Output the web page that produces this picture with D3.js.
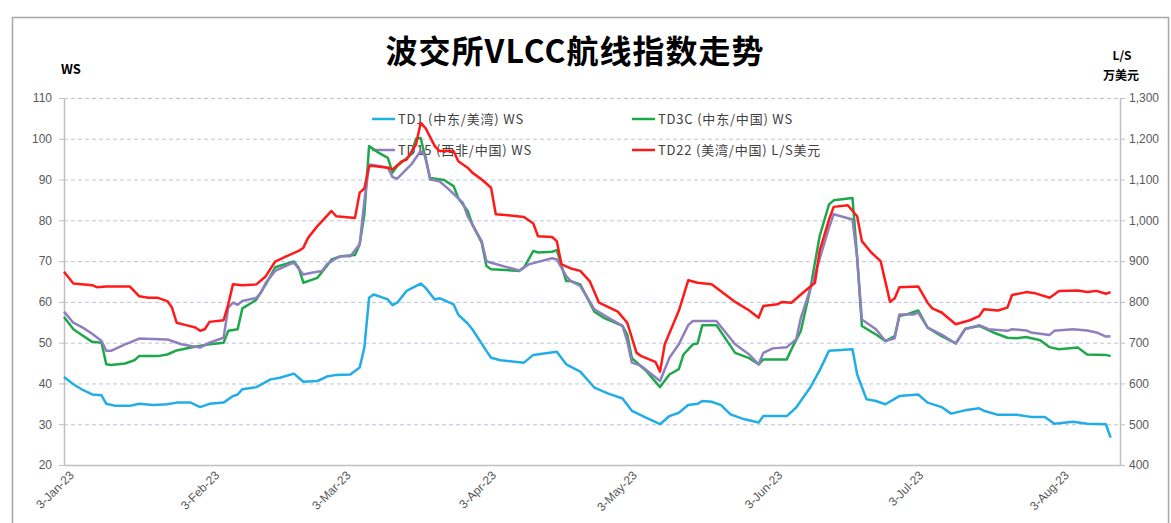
<!DOCTYPE html>
<html>
<head>
<meta charset="utf-8">
<script src="https://cdn.jsdelivr.net/npm/d3@7"></script>
<style>
  body { margin: 0; background: #fff; }
  svg { display: block; }
</style>
</head>
<body>
<svg width="1171" height="523"></svg>
<script>
// dates are month-day in 2023
const td1 = [
  ["01-03",41.6],["01-05",39.8],["01-07",38.4],["01-09",37.3],["01-11",37.1],["01-12",35.0],["01-14",34.5],
  ["01-17",34.5],["01-19",35.0],["01-22",34.7],["01-25",34.9],["01-27",35.3],["01-30",35.3],["02-01",34.2],
  ["02-03",35.0],["02-06",35.3],["02-08",36.9],["02-09",37.3],["02-10",38.6],["02-13",39.1],["02-16",41.0],
  ["02-18",41.4],["02-21",42.4],["02-22",41.4],["02-23",40.4],["02-26",40.6],["02-28",41.7],["03-02",42.1],
  ["03-05",42.2],["03-07",43.9],["03-08",48.8],["03-09",61.0],["03-10",61.8],["03-13",60.6],["03-14",59.2],
  ["03-15",59.8],["03-17",62.7],["03-20",64.5],["03-21",63.5],["03-23",60.6],["03-24",60.9],["03-27",59.4],
  ["03-28",56.9],["03-30",54.7],["03-31",53.3],["04-03",48.0],["04-04",46.3],["04-06",45.7],["04-11",45.1],
  ["04-13",47.0],["04-18",47.8],["04-20",44.7],["04-23",42.9],["04-26",39.0],["04-29",37.5],["05-02",36.3],
  ["05-04",33.3],["05-07",31.6],["05-10",30.0],["05-12",32.0],["05-14",32.8],["05-16",34.7],["05-18",35.0],
  ["05-19",35.7],["05-21",35.5],["05-23",34.7],["05-25",32.4],["05-28",31.2],["05-31",30.4],["06-01",32.0],
  ["06-06",32.0],["06-08",34.1],["06-11",39.0],["06-13",43.2],["06-15",48.0],["06-20",48.4],["06-21",42.2],
  ["06-23",36.1],["06-25",35.7],["06-27",34.9],["06-30",36.9],["07-04",37.3],["07-06",35.3],["07-09",34.2],
  ["07-11",32.6],["07-14",33.4],["07-17",33.9],["07-18",33.3],["07-21",32.3],["07-25",32.3],["07-28",31.8],
  ["07-31",31.8],["08-02",30.1],["08-06",30.6],["08-09",30.1],["08-13",30.0],["08-14",26.7]
];

const td3c = [
  ["01-03",56.3],["01-05",53.3],["01-06",52.5],["01-09",50.2],["01-11",50.0],["01-12",44.7],["01-13",44.5],
  ["01-16",44.9],["01-18",45.7],["01-19",46.7],["01-23",46.7],["01-25",47.1],["01-27",48.1],["01-30",48.8],
  ["02-03",49.6],["02-06",50.0],["02-07",52.9],["02-09",53.3],["02-10",58.4],["02-12",59.8],["02-13",60.6],
  ["02-15",64.3],["02-17",68.5],["02-21",69.9],["02-22",68.4],["02-23",64.7],["02-26",65.9],["02-28",68.8],
  ["03-01",70.4],["03-03",71.2],["03-06",71.5],["03-07",74.1],["03-08",81.5],["03-09",98.2],["03-11",96.6],
  ["03-13",95.3],["03-14",91.7],["03-15",93.3],["03-18",96.2],["03-19",100.0],["03-20",100.2],["03-22",90.4],
  ["03-25",89.9],["03-27",88.4],["03-28",85.5],["03-30",82.3],["03-31",79.0],["04-02",74.5],["04-03",68.8],
  ["04-04",68.0],["04-10",67.6],["04-11",68.4],["04-13",72.5],["04-14",72.1],["04-17",72.3],["04-18",72.7],
  ["04-20",65.1],["04-21",65.1],["04-23",64.3],["04-26",57.6],["04-28",56.1],["05-02",54.1],["05-03",52.0],
  ["05-04",46.2],["05-07",43.1],["05-10",39.1],["05-12",42.2],["05-14",43.5],["05-15",47.1],["05-17",49.6],
  ["05-18",49.8],["05-19",54.3],["05-22",54.3],["05-26",47.5],["05-29",46.2],["05-31",44.7],["06-01",45.9],
  ["06-06",45.9],["06-07",48.4],["06-09",52.9],["06-11",63.1],["06-13",76.1],["06-15",83.9],["06-16",84.9],
  ["06-20",85.5],["06-21",70.8],["06-22",54.1],["06-25",52.0],["06-27",50.4],["06-29",51.6],["06-30",56.5],
  ["07-02",57.1],["07-04",57.9],["07-06",53.7],["07-09",51.6],["07-12",49.8],["07-14",53.4],["07-17",54.1],
  ["07-20",52.5],["07-23",51.2],["07-25",51.1],["07-27",51.4],["07-30",50.6],["08-01",48.9],["08-03",48.4],
  ["08-07",48.8],["08-09",47.1],["08-13",47.0],["08-14",46.7]
];

const td15 = [
  ["01-03",57.6],["01-05",54.9],["01-07",53.7],["01-09",52.2],["01-11",50.4],["01-12",48.0],["01-13",48.0],
  ["01-16",49.6],["01-17",50.0],["01-19",51.0],["01-25",50.8],["01-26",50.4],["01-28",49.6],["01-30",49.2],
  ["02-01",48.8],["02-03",50.0],["02-06",51.2],["02-07",58.6],["02-08",59.8],["02-09",59.3],["02-10",60.2],
  ["02-13",61.0],["02-14",62.3],["02-15",64.7],["02-17",67.6],["02-20",69.2],["02-21",69.6],["02-23",66.7],
  ["02-25",67.2],["02-27",67.6],["02-28",69.2],["03-02",70.7],["03-03",71.2],["03-05",71.2],["03-07",74.1],
  ["03-08",84.7],["03-09",93.7],["03-11",93.3],["03-13",92.9],["03-14",90.6],["03-15",90.2],["03-18",93.7],
  ["03-20",97.0],["03-21",95.8],["03-22",90.0],["03-24",89.6],["03-26",87.6],["03-29",84.3],["03-30",81.0],
  ["04-02",74.9],["04-03",70.0],["04-04",69.6],["04-10",67.7],["04-12",69.2],["04-17",70.7],["04-18",70.4],
  ["04-20",66.3],["04-21",65.1],["04-23",63.9],["04-26",58.2],["04-29",56.1],["05-02",54.1],["05-03",50.4],
  ["05-04",45.1],["05-06",44.3],["05-10",40.6],["05-12",46.3],["05-14",49.6],["05-16",54.3],["05-17",55.3],
  ["05-22",55.3],["05-26",49.6],["05-29",47.1],["05-31",44.7],["06-01",47.5],["06-03",48.6],["06-06",48.9],
  ["06-08",50.8],["06-09",56.1],["06-12",66.7],["06-15",78.2],["06-16",81.5],["06-20",80.2],["06-21",70.8],
  ["06-22",55.7],["06-25",53.3],["06-27",50.4],["06-29",51.1],["06-30",56.9],["07-03",56.9],["07-04",57.4],
  ["07-06",53.7],["07-09",52.0],["07-12",49.8],["07-14",53.3],["07-17",54.3],["07-19",53.3],["07-23",52.9],
  ["07-24",53.3],["07-27",53.0],["07-28",52.5],["08-01",51.9],["08-02",52.9],["08-06",53.3],["08-09",53.0],
  ["08-11",52.5],["08-13",51.5],["08-14",51.6]
];

// TD22 on the right axis
const td22 = [
  ["01-03",874],["01-05",845],["01-09",841],["01-10",836],["01-12",838],["01-17",838],["01-19",814],
  ["01-21",810],["01-23",810],["01-25",802],["01-26",786],["01-27",749],["01-29",743],["01-31",737],
  ["02-01",729],["02-02",733],["02-03",751],["02-06",755],["02-07",794],["02-08",843],["02-10",841],
  ["02-13",843],["02-15",863],["02-17",899],["02-19",910],["02-22",925],["02-23",933],["02-24",957],
  ["02-26",986],["03-01",1023],["03-02",1010],["03-06",1006],["03-07",1068],["03-08",1078],["03-09",1133],
  ["03-10",1133],["03-13",1129],["03-14",1125],["03-16",1145],["03-17",1149],["03-19",1186],["03-20",1239],
  ["03-21",1227],["03-23",1182],["03-24",1170],["03-27",1170],["03-28",1145],["03-30",1129],["03-31",1117],
  ["04-02",1100],["04-04",1080],["04-05",1015],["04-07",1013],["04-11",1008],["04-13",992],["04-14",961],
  ["04-17",959],["04-18",949],["04-19",892],["04-21",882],["04-23",876],["04-25",851],["04-27",798],
  ["04-29",787],["05-01",776],["05-03",749],["05-05",675],["05-06",667],["05-09",653],["05-10",629],
  ["05-11",696],["05-14",778],["05-16",853],["05-18",847],["05-21",843],["05-26",800],["05-29",779],
  ["05-31",761],["06-01",790],["06-04",794],["06-05",800],["06-07",798],["06-09",818],["06-12",847],
  ["06-13",925],["06-15",1002],["06-16",1033],["06-19",1037],["06-21",1010],["06-22",949],["06-24",921],
  ["06-26",900],["06-28",800],["06-29",809],["06-30",836],["07-04",838],["07-06",798],["07-07",784],
  ["07-09",774],["07-12",745],["07-15",755],["07-17",765],["07-18",782],["07-21",779],["07-23",786],
  ["07-24",817],["07-27",824],["07-29",821],["08-01",810],["08-02",818],["08-03",827],["08-07",828],
  ["08-09",824],["08-11",827],["08-13",820],["08-14",824]
];

const leftTicks = [20, 30, 40, 50, 60, 70, 80, 90, 100, 110];
const rightTicks = [400, 500, 600, 700, 800, 900, 1000, 1100, 1200, 1300];
const dateTicks = ["01-03", "02-03", "03-03", "04-03", "05-03", "06-03", "07-03", "08-03"];

const seriesNames = ["TD1 (中东/美湾) WS", "TD3C (中东/中国) WS", "TD15 (西非/中国) WS", "TD22 (美湾/中国) L/S美元"];
const seriesColors = ["#22ade6", "#1fa84a", "#8f7fbf", "#ff1a1a"];

const parse = d3.timeParse("%Y-%m-%d");
const toDate = s => parse("2023-" + s);

const svg = d3.select("svg");
const plotLeft = 64, plotRight = 1120, plotTop = 98, plotBottom = 465;

const x = d3.scaleTime()
  .domain([toDate("01-03"), toDate("08-16")])
  .range([plotLeft, plotRight]);
const yL = d3.scaleLinear().domain([20, 110]).range([plotBottom, plotTop]);
const yR = d3.scaleLinear().domain([400, 1300]).range([plotBottom, plotTop]);

// outer frame
svg.append("rect")
  .attr("x", 12.5).attr("y", 17.5)
  .attr("width", 1156).attr("height", 520)
  .attr("fill", "none").attr("stroke", "#a6a6a6").attr("stroke-width", 1.5);

// title and unit labels
svg.append("text")
  .attr("x", 575).attr("y", 63)
  .attr("text-anchor", "middle")
  .style("font-family", "'Noto Sans CJK SC', sans-serif")
  .style("font-size", "32px").style("font-weight", "bold")
  .style("letter-spacing", "1px")
  .attr("fill", "#000")
  .text("波交所VLCC航线指数走势");

svg.append("text")
  .attr("x", 71).attr("y", 74).attr("text-anchor", "middle")
  .style("font-family", "'Noto Sans CJK SC', sans-serif")
  .style("font-size", "13px").style("font-weight", "bold")
  .text("WS");
svg.append("text")
  .attr("x", 1122).attr("y", 60).attr("text-anchor", "middle")
  .style("font-family", "'Noto Sans CJK SC', sans-serif")
  .style("font-size", "12px").style("font-weight", "bold")
  .text("L/S");
svg.append("text")
  .attr("x", 1121).attr("y", 80).attr("text-anchor", "middle")
  .style("font-family", "'Noto Sans CJK SC', sans-serif")
  .style("font-size", "12px").style("font-weight", "bold")
  .text("万美元");

// dashed grid
svg.append("g")
  .selectAll("line")
  .data(leftTicks.filter(d => d > 20))
  .join("line")
  .attr("x1", plotLeft).attr("x2", plotRight)
  .attr("y1", d => yL(d) + 0.5).attr("y2", d => yL(d) + 0.5)
  .attr("stroke", "#bcc5dc").attr("stroke-width", 1)
  .attr("stroke-dasharray", "4,3");

// axes
const axisFont = "'Liberation Sans', Arial, sans-serif";

const gL = svg.append("g")
  .attr("transform", `translate(${plotLeft},0)`)
  .call(d3.axisLeft(yL).tickValues(leftTicks).tickSize(5).tickSizeOuter(0).tickPadding(7));
const gR = svg.append("g")
  .attr("transform", `translate(${plotRight},0)`)
  .call(d3.axisRight(yR).tickValues(rightTicks).tickFormat(d3.format(",")).tickSize(5).tickSizeOuter(0).tickPadding(4));
const gX = svg.append("g")
  .attr("transform", `translate(0,${plotBottom})`)
  .call(d3.axisBottom(x).tickValues(dateTicks.map(toDate)).tickSize(0).tickSizeOuter(0).tickFormat(d3.timeFormat("%-d-%b-%y")));

[gL, gR, gX].forEach(g => {
  g.select(".domain").attr("stroke", "#bfbfbf").attr("stroke-width", 1.5);
  g.selectAll(".tick line").attr("stroke", "#bfbfbf");
  g.selectAll("text")
    .attr("fill", "#595959")
    .style("font-family", axisFont)
    .style("font-size", "12px");
});

gX.selectAll("text")
  .attr("text-anchor", "end")
  .attr("dx", 0).attr("dy", 0)
  .attr("transform", "translate(8,9) rotate(-45)")
  .style("font-size", "12px");

// legend
const legendPos = [[372, 119], [632, 119], [372, 150], [632, 150]];
const legend = svg.append("g")
  .selectAll("g")
  .data(seriesNames)
  .join("g")
  .attr("transform", (d, i) => `translate(${legendPos[i][0]},${legendPos[i][1]})`);
legend.append("line")
  .attr("x1", 0).attr("x2", 23)
  .attr("stroke", (d, i) => seriesColors[i]).attr("stroke-width", 2.5);
legend.append("text")
  .attr("x", 26).attr("y", 4.5)
  .attr("fill", "#404040")
  .style("font-family", "'Noto Sans CJK SC', sans-serif")
  .style("font-size", "13px")
  .style("letter-spacing", "0.8px")
  .text(d => d);

// lines
const lineL = d3.line().x(d => x(toDate(d[0]))).y(d => yL(d[1]));
const lineR = d3.line().x(d => x(toDate(d[0]))).y(d => yR(d[1]));

const plotted = [
  { data: td1, line: lineL },
  { data: td3c, line: lineL },
  { data: td15, line: lineL },
  { data: td22, line: lineR }
];

svg.append("g")
  .selectAll("path")
  .data(plotted)
  .join("path")
  .attr("d", d => d.line(d.data))
  .attr("fill", "none")
  .attr("stroke", (d, i) => seriesColors[i])
  .attr("stroke-width", 2.5)
  .attr("stroke-linejoin", "round");
</script>
</body>
</html>
